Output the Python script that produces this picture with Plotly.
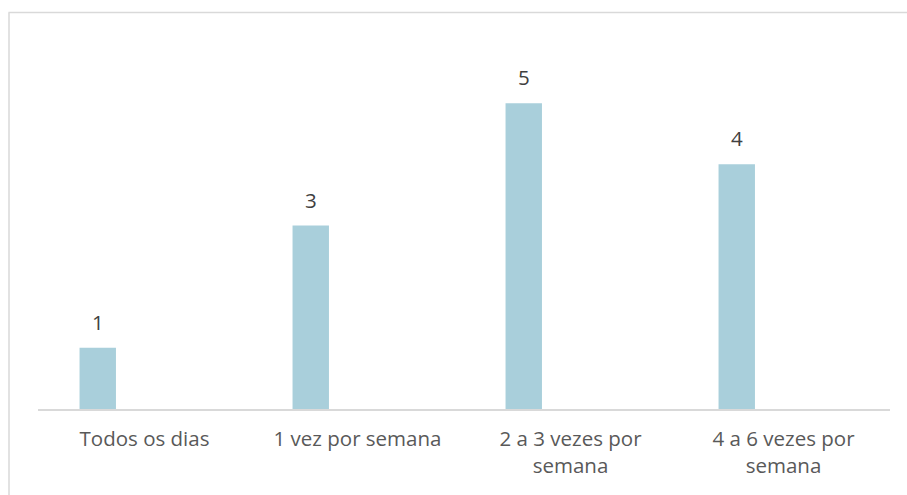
import plotly.graph_objects as go

# Frequency categories and counts
categories = ["Todos os dias", "1 vez por semana", "2 a 3 vezes por<br>semana", "4 a 6 vezes por<br>semana"]
counts = [1, 3, 5, 4]

W, H = 907, 495
ML, MR, MT, MB = 38, 17, 42, 86
plot_w = W - ML - MR
plot_h = H - MT - MB

bar_offset = -0.305
bar_width = 0.171
positions = list(range(len(categories)))

fig = go.Figure()
fig.add_trace(go.Bar(
    x=positions,
    y=counts,
    offset=bar_offset,
    width=bar_width,
    marker=dict(color="#A9CFDB", line=dict(width=0)),
    hoverinfo="skip",
))

# Value labels above each bar
for xi, v in zip(positions, counts):
    fig.add_annotation(
        x=xi + bar_offset + bar_width / 2, y=v,
        text=str(v), showarrow=False,
        yanchor="bottom", yshift=10,
        font=dict(family="Open Sans", size=20.5, color="#404040"),
    )

# Outer frame: top and left edges
def px_x(px):
    return (px - ML) / plot_w

def px_y(py):
    return (H - MB - py) / plot_h

frame = dict(color="#D9D9D9", width=1.5)
fig.add_shape(type="line", xref="paper", yref="paper",
              x0=px_x(8.5), x1=px_x(907), y0=px_y(12.5), y1=px_y(12.5), line=frame)
fig.add_shape(type="line", xref="paper", yref="paper",
              x0=px_x(9), x1=px_x(9), y0=px_y(12.5), y1=px_y(495), line=frame)

fig.update_layout(
    width=W, height=H,
    margin=dict(l=ML, r=MR, t=MT, b=MB),
    paper_bgcolor="white", plot_bgcolor="white",
    showlegend=False,
    font=dict(family="Open Sans", size=20.5, color="#595959"),
    xaxis=dict(
        range=[-0.5, 3.5],
        tickvals=positions, ticktext=categories,
        showline=True, linecolor="#D9D9D9", linewidth=1.5,
        showgrid=False, zeroline=False, ticks="",
        ticklabelstandoff=11,
        tickfont=dict(family="Open Sans", size=20.5, color="#595959"),
    ),
    yaxis=dict(
        range=[0, 6], visible=False, showgrid=False, zeroline=False,
    ),
)

fig.write_html("out.html")
